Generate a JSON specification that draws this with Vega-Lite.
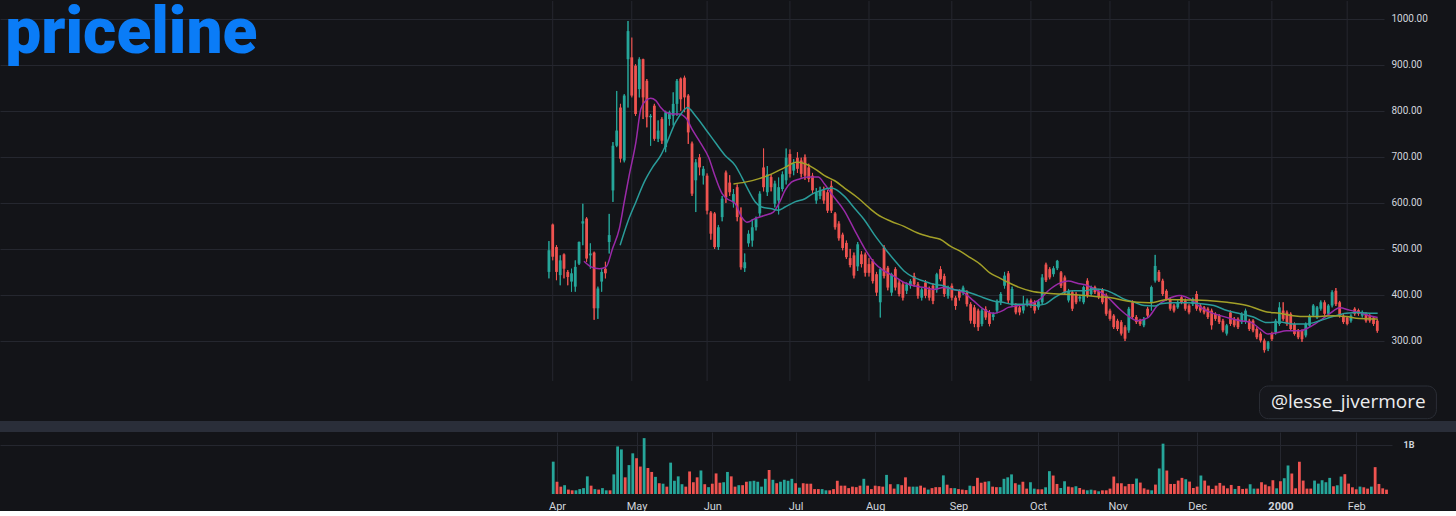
{
  "$schema": "https://vega.github.io/schema/vega-lite/v6.json",
  "background": "#131418",
  "padding": 0,
  "spacing": 0,
  "config": {
    "view": {"stroke": null},
    "font": "Roboto",
    "axis": {"domain": false, "ticks": false, "labelColor": "#d1d4dc", "gridColor": "#25272f", "gridWidth": 1}
  },
  "datasets": {
    "k": [
      {"i":-1,"o":450,"h":517,"l":436,"c":497,"v":660},
      {"i":0,"o":553,"h":555,"l":475,"c":483,"v":250},
      {"i":1,"o":504,"h":508,"l":432,"c":450,"v":150},
      {"i":2,"o":443,"h":486,"l":421,"c":475,"v":180},
      {"i":3,"o":488,"h":490,"l":436,"c":457,"v":90},
      {"i":4,"o":450,"h":454,"l":421,"c":439,"v":75},
      {"i":5,"o":429,"h":457,"l":407,"c":447,"v":75},
      {"i":6,"o":418,"h":475,"l":407,"c":461,"v":100},
      {"i":7,"o":468,"h":516,"l":465,"c":515,"v":120},
      {"i":8,"o":555,"h":598,"l":508,"c":560,"v":360},
      {"i":9,"o":566,"h":569,"l":472,"c":479,"v":170},
      {"i":10,"o":486,"h":512,"l":457,"c":490,"v":100},
      {"i":11,"o":492,"h":494,"l":346,"c":371,"v":90},
      {"i":12,"o":371,"h":418,"l":348,"c":414,"v":120},
      {"i":13,"o":429,"h":457,"l":407,"c":450,"v":75},
      {"i":14,"o":457,"h":472,"l":436,"c":447,"v":75},
      {"i":15,"o":515,"h":576,"l":490,"c":530,"v":400},
      {"i":16,"o":627,"h":732,"l":602,"c":724,"v":970},
      {"i":17,"o":724,"h":843,"l":721,"c":757,"v":910},
      {"i":18,"o":807,"h":815,"l":688,"c":696,"v":340},
      {"i":19,"o":692,"h":836,"l":688,"c":833,"v":590},
      {"i":20,"o":912,"h":995,"l":807,"c":973,"v":830},
      {"i":21,"o":916,"h":959,"l":829,"c":833,"v":730},
      {"i":22,"o":898,"h":901,"l":789,"c":793,"v":560},
      {"i":23,"o":847,"h":916,"l":829,"c":912,"v":1140},
      {"i":24,"o":912,"h":913,"l":782,"c":829,"v":530},
      {"i":25,"o":865,"h":869,"l":764,"c":786,"v":450},
      {"i":26,"o":786,"h":793,"l":724,"c":789,"v":350},
      {"i":27,"o":811,"h":815,"l":735,"c":739,"v":220},
      {"i":28,"o":739,"h":779,"l":732,"c":757,"v":210},
      {"i":29,"o":782,"h":786,"l":728,"c":735,"v":150},
      {"i":30,"o":721,"h":800,"l":710,"c":797,"v":640},
      {"i":31,"o":782,"h":800,"l":768,"c":797,"v":270},
      {"i":32,"o":789,"h":840,"l":768,"c":815,"v":360},
      {"i":33,"o":815,"h":869,"l":789,"c":865,"v":200},
      {"i":34,"o":870,"h":872,"l":800,"c":825,"v":150},
      {"i":35,"o":872,"h":876,"l":797,"c":829,"v":460},
      {"i":36,"o":833,"h":836,"l":728,"c":753,"v":240},
      {"i":37,"o":729,"h":733,"l":615,"c":620,"v":340},
      {"i":38,"o":649,"h":695,"l":580,"c":688,"v":480},
      {"i":39,"o":699,"h":706,"l":660,"c":677,"v":200},
      {"i":40,"o":659,"h":680,"l":640,"c":674,"v":140},
      {"i":41,"o":659,"h":664,"l":575,"c":583,"v":210},
      {"i":42,"o":579,"h":582,"l":520,"c":533,"v":420},
      {"i":43,"o":577,"h":580,"l":500,"c":504,"v":230},
      {"i":44,"o":504,"h":552,"l":498,"c":547,"v":240},
      {"i":45,"o":569,"h":615,"l":560,"c":609,"v":450},
      {"i":46,"o":666,"h":670,"l":600,"c":612,"v":360},
      {"i":47,"o":644,"h":660,"l":615,"c":623,"v":150},
      {"i":48,"o":601,"h":630,"l":590,"c":619,"v":180},
      {"i":49,"o":634,"h":640,"l":560,"c":569,"v":180},
      {"i":50,"o":569,"h":590,"l":455,"c":460,"v":250},
      {"i":51,"o":458,"h":490,"l":450,"c":471,"v":260},
      {"i":52,"o":512,"h":540,"l":505,"c":533,"v":270},
      {"i":53,"o":518,"h":565,"l":505,"c":547,"v":250},
      {"i":54,"o":547,"h":570,"l":540,"c":565,"v":150},
      {"i":55,"o":577,"h":625,"l":570,"c":620,"v":310},
      {"i":56,"o":677,"h":718,"l":625,"c":634,"v":490},
      {"i":57,"o":623,"h":680,"l":615,"c":662,"v":290},
      {"i":58,"o":656,"h":662,"l":625,"c":634,"v":220},
      {"i":59,"o":598,"h":648,"l":590,"c":642,"v":250},
      {"i":60,"o":605,"h":655,"l":575,"c":634,"v":290},
      {"i":61,"o":630,"h":668,"l":625,"c":662,"v":270},
      {"i":62,"o":649,"h":718,"l":640,"c":698,"v":310},
      {"i":63,"o":706,"h":716,"l":655,"c":663,"v":220},
      {"i":64,"o":670,"h":695,"l":660,"c":685,"v":130},
      {"i":65,"o":698,"h":710,"l":665,"c":674,"v":220},
      {"i":66,"o":692,"h":698,"l":655,"c":663,"v":210},
      {"i":67,"o":699,"h":705,"l":650,"c":659,"v":210},
      {"i":68,"o":677,"h":685,"l":645,"c":652,"v":100},
      {"i":69,"o":659,"h":665,"l":620,"c":627,"v":100},
      {"i":70,"o":605,"h":632,"l":598,"c":623,"v":100},
      {"i":71,"o":615,"h":635,"l":608,"c":627,"v":75},
      {"i":72,"o":627,"h":635,"l":598,"c":605,"v":75},
      {"i":73,"o":623,"h":628,"l":578,"c":583,"v":100},
      {"i":74,"o":637,"h":648,"l":578,"c":583,"v":270},
      {"i":75,"o":577,"h":580,"l":542,"c":547,"v":170},
      {"i":76,"o":555,"h":560,"l":518,"c":523,"v":170},
      {"i":77,"o":531,"h":535,"l":497,"c":502,"v":120},
      {"i":78,"o":513,"h":518,"l":478,"c":482,"v":150},
      {"i":79,"o":480,"h":500,"l":460,"c":465,"v":140},
      {"i":80,"o":486,"h":492,"l":436,"c":442,"v":170},
      {"i":81,"o":462,"h":515,"l":452,"c":510,"v":310},
      {"i":82,"o":488,"h":495,"l":460,"c":467,"v":170},
      {"i":83,"o":488,"h":492,"l":440,"c":448,"v":100},
      {"i":84,"o":467,"h":480,"l":440,"c":448,"v":170},
      {"i":85,"o":474,"h":478,"l":425,"c":430,"v":160},
      {"i":86,"o":445,"h":450,"l":398,"c":405,"v":150},
      {"i":87,"o":384,"h":460,"l":351,"c":456,"v":390},
      {"i":88,"o":503,"h":508,"l":436,"c":441,"v":200},
      {"i":89,"o":459,"h":463,"l":410,"c":416,"v":110},
      {"i":90,"o":405,"h":448,"l":398,"c":445,"v":200},
      {"i":91,"o":456,"h":460,"l":410,"c":416,"v":180},
      {"i":92,"o":427,"h":432,"l":397,"c":402,"v":340},
      {"i":93,"o":423,"h":428,"l":388,"c":394,"v":150},
      {"i":94,"o":409,"h":427,"l":402,"c":423,"v":150},
      {"i":95,"o":420,"h":434,"l":414,"c":430,"v":150},
      {"i":96,"o":441,"h":448,"l":418,"c":423,"v":170},
      {"i":97,"o":423,"h":428,"l":392,"c":398,"v":130},
      {"i":98,"o":394,"h":416,"l":388,"c":412,"v":90},
      {"i":99,"o":427,"h":432,"l":393,"c":398,"v":120},
      {"i":100,"o":412,"h":418,"l":388,"c":394,"v":140},
      {"i":101,"o":420,"h":425,"l":380,"c":387,"v":140},
      {"i":102,"o":412,"h":448,"l":405,"c":445,"v":380},
      {"i":103,"o":456,"h":462,"l":430,"c":434,"v":190},
      {"i":104,"o":441,"h":446,"l":396,"c":402,"v":120},
      {"i":105,"o":398,"h":420,"l":392,"c":416,"v":120},
      {"i":106,"o":420,"h":425,"l":388,"c":394,"v":100},
      {"i":107,"o":394,"h":398,"l":368,"c":376,"v":90},
      {"i":108,"o":409,"h":412,"l":388,"c":394,"v":80},
      {"i":109,"o":405,"h":420,"l":400,"c":416,"v":170},
      {"i":110,"o":405,"h":410,"l":375,"c":380,"v":160},
      {"i":111,"o":380,"h":384,"l":338,"c":344,"v":330},
      {"i":112,"o":373,"h":378,"l":330,"c":337,"v":230},
      {"i":113,"o":366,"h":370,"l":322,"c":330,"v":250},
      {"i":114,"o":337,"h":370,"l":332,"c":366,"v":260},
      {"i":115,"o":369,"h":375,"l":346,"c":351,"v":150},
      {"i":116,"o":362,"h":367,"l":332,"c":337,"v":140},
      {"i":117,"o":352,"h":362,"l":345,"c":358,"v":140},
      {"i":118,"o":366,"h":390,"l":360,"c":387,"v":310},
      {"i":119,"o":384,"h":406,"l":378,"c":402,"v":340},
      {"i":120,"o":420,"h":450,"l":414,"c":442,"v":400},
      {"i":121,"o":447,"h":452,"l":382,"c":388,"v":220},
      {"i":122,"o":380,"h":418,"l":375,"c":413,"v":190},
      {"i":123,"o":377,"h":382,"l":358,"c":362,"v":250},
      {"i":124,"o":373,"h":378,"l":356,"c":362,"v":110},
      {"i":125,"o":366,"h":398,"l":360,"c":380,"v":240},
      {"i":126,"o":380,"h":392,"l":375,"c":388,"v":110},
      {"i":127,"o":388,"h":392,"l":372,"c":377,"v":96},
      {"i":128,"o":384,"h":388,"l":360,"c":366,"v":96},
      {"i":129,"o":373,"h":390,"l":368,"c":386,"v":137},
      {"i":130,"o":384,"h":445,"l":380,"c":438,"v":466},
      {"i":131,"o":466,"h":470,"l":428,"c":432,"v":377},
      {"i":132,"o":456,"h":460,"l":434,"c":438,"v":205},
      {"i":133,"o":445,"h":462,"l":440,"c":458,"v":123},
      {"i":134,"o":458,"h":476,"l":454,"c":474,"v":260},
      {"i":135,"o":449,"h":452,"l":415,"c":420,"v":151},
      {"i":136,"o":438,"h":442,"l":400,"c":406,"v":137},
      {"i":137,"o":388,"h":413,"l":384,"c":409,"v":158},
      {"i":138,"o":406,"h":410,"l":365,"c":370,"v":123},
      {"i":139,"o":402,"h":406,"l":380,"c":384,"v":89},
      {"i":140,"o":392,"h":400,"l":386,"c":396,"v":75},
      {"i":141,"o":384,"h":420,"l":380,"c":417,"v":89},
      {"i":142,"o":431,"h":436,"l":394,"c":398,"v":75},
      {"i":143,"o":402,"h":420,"l":398,"c":417,"v":55},
      {"i":144,"o":417,"h":420,"l":402,"c":406,"v":75},
      {"i":145,"o":409,"h":413,"l":391,"c":395,"v":75},
      {"i":146,"o":411,"h":415,"l":380,"c":384,"v":110},
      {"i":147,"o":399,"h":403,"l":355,"c":359,"v":356},
      {"i":148,"o":366,"h":370,"l":344,"c":348,"v":219},
      {"i":149,"o":355,"h":358,"l":326,"c":330,"v":219},
      {"i":150,"o":344,"h":348,"l":322,"c":326,"v":158},
      {"i":151,"o":341,"h":345,"l":312,"c":316,"v":205},
      {"i":152,"o":330,"h":334,"l":300,"c":305,"v":205},
      {"i":153,"o":323,"h":374,"l":318,"c":370,"v":315},
      {"i":154,"o":384,"h":388,"l":348,"c":352,"v":233},
      {"i":155,"o":352,"h":356,"l":337,"c":341,"v":116},
      {"i":156,"o":344,"h":348,"l":333,"c":337,"v":89},
      {"i":157,"o":334,"h":352,"l":330,"c":348,"v":75},
      {"i":158,"o":370,"h":374,"l":351,"c":355,"v":192},
      {"i":159,"o":384,"h":420,"l":366,"c":417,"v":521},
      {"i":160,"o":431,"h":487,"l":427,"c":463,"v":1027},
      {"i":161,"o":450,"h":454,"l":428,"c":431,"v":479},
      {"i":162,"o":431,"h":435,"l":398,"c":402,"v":205},
      {"i":163,"o":409,"h":412,"l":388,"c":391,"v":205},
      {"i":164,"o":391,"h":394,"l":366,"c":370,"v":274},
      {"i":165,"o":377,"h":380,"l":362,"c":366,"v":329},
      {"i":166,"o":373,"h":388,"l":370,"c":384,"v":301},
      {"i":167,"o":395,"h":400,"l":380,"c":384,"v":253},
      {"i":168,"o":388,"h":392,"l":366,"c":370,"v":123},
      {"i":169,"o":377,"h":380,"l":358,"c":362,"v":151},
      {"i":170,"o":380,"h":394,"l":376,"c":391,"v":377},
      {"i":171,"o":402,"h":408,"l":366,"c":370,"v":274},
      {"i":172,"o":377,"h":380,"l":362,"c":366,"v":171},
      {"i":173,"o":373,"h":376,"l":358,"c":362,"v":103},
      {"i":174,"o":370,"h":373,"l":348,"c":352,"v":171},
      {"i":175,"o":366,"h":370,"l":325,"c":334,"v":226},
      {"i":176,"o":359,"h":362,"l":344,"c":348,"v":171},
      {"i":177,"o":355,"h":358,"l":337,"c":341,"v":116},
      {"i":178,"o":344,"h":348,"l":319,"c":323,"v":185},
      {"i":179,"o":316,"h":337,"l":312,"c":334,"v":103},
      {"i":180,"o":362,"h":366,"l":333,"c":337,"v":164},
      {"i":181,"o":348,"h":352,"l":330,"c":334,"v":103},
      {"i":182,"o":348,"h":351,"l":326,"c":330,"v":110},
      {"i":183,"o":341,"h":362,"l":337,"c":359,"v":199},
      {"i":184,"o":341,"h":370,"l":337,"c":366,"v":110},
      {"i":185,"o":344,"h":348,"l":322,"c":326,"v":110},
      {"i":186,"o":344,"h":347,"l":319,"c":323,"v":240},
      {"i":187,"o":326,"h":330,"l":304,"c":308,"v":192},
      {"i":188,"o":316,"h":320,"l":297,"c":301,"v":158},
      {"i":189,"o":301,"h":305,"l":275,"c":280,"v":281},
      {"i":190,"o":283,"h":300,"l":278,"c":297,"v":116},
      {"i":191,"o":315,"h":320,"l":300,"c":304,"v":260},
      {"i":192,"o":319,"h":348,"l":314,"c":344,"v":322},
      {"i":193,"o":337,"h":384,"l":333,"c":373,"v":582},
      {"i":194,"o":366,"h":384,"l":344,"c":348,"v":418},
      {"i":195,"o":362,"h":366,"l":333,"c":337,"v":116},
      {"i":196,"o":359,"h":362,"l":322,"c":326,"v":658},
      {"i":197,"o":337,"h":340,"l":312,"c":315,"v":274},
      {"i":198,"o":322,"h":326,"l":304,"c":308,"v":110},
      {"i":199,"o":322,"h":325,"l":298,"c":304,"v":110},
      {"i":200,"o":312,"h":340,"l":308,"c":337,"v":274},
      {"i":201,"o":333,"h":358,"l":330,"c":355,"v":212},
      {"i":202,"o":355,"h":380,"l":352,"c":377,"v":281},
      {"i":203,"o":351,"h":376,"l":348,"c":373,"v":240},
      {"i":204,"o":370,"h":388,"l":366,"c":384,"v":329},
      {"i":205,"o":384,"h":388,"l":355,"c":359,"v":158},
      {"i":206,"o":359,"h":380,"l":355,"c":377,"v":178},
      {"i":207,"o":377,"h":410,"l":373,"c":406,"v":356},
      {"i":208,"o":409,"h":415,"l":376,"c":380,"v":404},
      {"i":209,"o":384,"h":387,"l":351,"c":355,"v":212},
      {"i":210,"o":355,"h":358,"l":337,"c":341,"v":137},
      {"i":211,"o":351,"h":354,"l":334,"c":337,"v":96},
      {"i":212,"o":344,"h":358,"l":340,"c":355,"v":151},
      {"i":213,"o":370,"h":373,"l":355,"c":359,"v":137},
      {"i":214,"o":367,"h":370,"l":355,"c":359,"v":110},
      {"i":215,"o":355,"h":366,"l":351,"c":362,"v":151},
      {"i":216,"o":359,"h":362,"l":340,"c":344,"v":548},
      {"i":217,"o":355,"h":358,"l":340,"c":344,"v":205},
      {"i":218,"o":351,"h":354,"l":333,"c":337,"v":116},
      {"i":219,"o":344,"h":347,"l":318,"c":322,"v":89}
    ],
    "ma": [
      {"s":"m10","i":8.3,"p":473},{"s":"m10","i":10.2,"p":461},{"s":"m10","i":12.4,"p":457},{"s":"m10","i":14.2,"p":461},
      {"s":"m10","i":15.9,"p":501},{"s":"m10","i":17.7,"p":544},{"s":"m10","i":19,"p":602},{"s":"m10","i":20.3,"p":659},
      {"s":"m10","i":22.1,"p":732},{"s":"m10","i":23.4,"p":804},{"s":"m10","i":24.7,"p":822},{"s":"m10","i":26,"p":827},
      {"s":"m10","i":27.4,"p":822},{"s":"m10","i":28.7,"p":807},{"s":"m10","i":30,"p":797},{"s":"m10","i":31.8,"p":793},
      {"s":"m10","i":33.5,"p":793},{"s":"m10","i":35.5,"p":783},{"s":"m10","i":37,"p":760},{"s":"m10","i":39.2,"p":731},
      {"s":"m10","i":41.4,"p":699},{"s":"m10","i":43.2,"p":656},{"s":"m10","i":45,"p":620},{"s":"m10","i":46.3,"p":609},
      {"s":"m10","i":48.5,"p":598},{"s":"m10","i":50.2,"p":569},{"s":"m10","i":51.6,"p":558},{"s":"m10","i":53.8,"p":566},
      {"s":"m10","i":56.4,"p":573},{"s":"m10","i":58.6,"p":580},{"s":"m10","i":60.3,"p":602},{"s":"m10","i":61.7,"p":627},
      {"s":"m10","i":63.4,"p":645},{"s":"m10","i":65.6,"p":652},{"s":"m10","i":67.8,"p":656},{"s":"m10","i":70.5,"p":656},
      {"s":"m10","i":72.2,"p":641},{"s":"m10","i":74,"p":620},{"s":"m10","i":77.5,"p":582},{"s":"m10","i":80.1,"p":542},
      {"s":"m10","i":82.7,"p":503},{"s":"m10","i":85.4,"p":470},{"s":"m10","i":88,"p":452},{"s":"m10","i":90.6,"p":441},
      {"s":"m10","i":93.3,"p":427},{"s":"m10","i":95.9,"p":420},{"s":"m10","i":98.6,"p":416},{"s":"m10","i":101.2,"p":412},
      {"s":"m10","i":103.8,"p":416},{"s":"m10","i":106.5,"p":412},{"s":"m10","i":109.1,"p":405},{"s":"m10","i":111.8,"p":387},
      {"s":"m10","i":114.4,"p":369},{"s":"m10","i":117,"p":360},{"s":"m10","i":119.5,"p":366},{"s":"m10","i":121,"p":373},
      {"s":"m10","i":123.7,"p":377},{"s":"m10","i":126.3,"p":380},{"s":"m10","i":129,"p":388},{"s":"m10","i":131.6,"p":409},
      {"s":"m10","i":134.2,"p":424},{"s":"m10","i":136.9,"p":430},{"s":"m10","i":139.5,"p":425},{"s":"m10","i":142.1,"p":420},
      {"s":"m10","i":144.8,"p":409},{"s":"m10","i":147.4,"p":395},{"s":"m10","i":150.1,"p":373},{"s":"m10","i":152.7,"p":355},
      {"s":"m10","i":155.3,"p":344},{"s":"m10","i":158,"p":350},{"s":"m10","i":160.6,"p":377},{"s":"m10","i":163.3,"p":391},
      {"s":"m10","i":166.4,"p":399},{"s":"m10","i":169.4,"p":391},{"s":"m10","i":172.1,"p":373},{"s":"m10","i":174.7,"p":362},
      {"s":"m10","i":177.3,"p":355},{"s":"m10","i":180,"p":349},{"s":"m10","i":182.6,"p":344},{"s":"m10","i":185.3,"p":341},
      {"s":"m10","i":187.9,"p":326},{"s":"m10","i":190,"p":315},{"s":"m10","i":192.2,"p":318},{"s":"m10","i":194.9,"p":322},
      {"s":"m10","i":198.4,"p":322},{"s":"m10","i":201,"p":330},{"s":"m10","i":203.7,"p":344},{"s":"m10","i":206.3,"p":359},
      {"s":"m10","i":209,"p":372},{"s":"m10","i":211.6,"p":367},{"s":"m10","i":214.2,"p":362},{"s":"m10","i":216.9,"p":355},
      {"s":"m10","i":219.1,"p":351},
      {"s":"m20","i":17.9,"p":508},{"s":"m20","i":19.9,"p":558},{"s":"m20","i":22.1,"p":602},{"s":"m20","i":24.3,"p":645},
      {"s":"m20","i":26.5,"p":677},{"s":"m20","i":28.7,"p":703},{"s":"m20","i":30.4,"p":732},{"s":"m20","i":32.6,"p":775},
      {"s":"m20","i":34.4,"p":797},{"s":"m20","i":35.8,"p":807},{"s":"m20","i":37.9,"p":789},{"s":"m20","i":40.6,"p":760},
      {"s":"m20","i":43.2,"p":731},{"s":"m20","i":45.8,"p":703},{"s":"m20","i":48.5,"p":681},{"s":"m20","i":50.2,"p":656},
      {"s":"m20","i":52,"p":627},{"s":"m20","i":53.8,"p":602},{"s":"m20","i":55.5,"p":591},{"s":"m20","i":58.2,"p":587},
      {"s":"m20","i":59.9,"p":584},{"s":"m20","i":61.7,"p":591},{"s":"m20","i":64.3,"p":602},{"s":"m20","i":67,"p":609},
      {"s":"m20","i":69.1,"p":620},{"s":"m20","i":71.3,"p":627},{"s":"m20","i":74,"p":632},{"s":"m20","i":77.5,"p":614},
      {"s":"m20","i":80.1,"p":589},{"s":"m20","i":82.7,"p":564},{"s":"m20","i":85.4,"p":531},{"s":"m20","i":88,"p":503},
      {"s":"m20","i":90.6,"p":477},{"s":"m20","i":93.3,"p":452},{"s":"m20","i":95.9,"p":438},{"s":"m20","i":98.6,"p":430},
      {"s":"m20","i":101.2,"p":423},{"s":"m20","i":103.8,"p":420},{"s":"m20","i":106.5,"p":412},{"s":"m20","i":109.1,"p":409},
      {"s":"m20","i":111.8,"p":402},{"s":"m20","i":114.4,"p":394},{"s":"m20","i":117,"p":387},{"s":"m20","i":119.5,"p":384},
      {"s":"m20","i":121.9,"p":380},{"s":"m20","i":125.4,"p":380},{"s":"m20","i":128,"p":377},{"s":"m20","i":130.7,"p":380},
      {"s":"m20","i":133.4,"p":395},{"s":"m20","i":136,"p":406},{"s":"m20","i":138.6,"p":409},{"s":"m20","i":141.3,"p":409},
      {"s":"m20","i":143.9,"p":413},{"s":"m20","i":146.5,"p":411},{"s":"m20","i":149.2,"p":402},{"s":"m20","i":151.8,"p":391},
      {"s":"m20","i":154.5,"p":384},{"s":"m20","i":157.1,"p":377},{"s":"m20","i":160,"p":376},{"s":"m20","i":161.5,"p":381},
      {"s":"m20","i":165,"p":383},{"s":"m20","i":168.6,"p":383},{"s":"m20","i":172.1,"p":381},{"s":"m20","i":175.6,"p":377},
      {"s":"m20","i":179.1,"p":366},{"s":"m20","i":182.6,"p":359},{"s":"m20","i":186.1,"p":352},{"s":"m20","i":189.7,"p":340},
      {"s":"m20","i":193.1,"p":341},{"s":"m20","i":196.6,"p":337},{"s":"m20","i":200.2,"p":337},{"s":"m20","i":203.7,"p":344},
      {"s":"m20","i":207.2,"p":353},{"s":"m20","i":210.7,"p":360},{"s":"m20","i":214.2,"p":362},{"s":"m20","i":217.7,"p":360},
      {"s":"m20","i":219.1,"p":360},
      {"s":"m50","i":48,"p":641},{"s":"m50","i":51.1,"p":645},{"s":"m50","i":54.6,"p":652},{"s":"m50","i":58.2,"p":663},
      {"s":"m50","i":61.7,"p":677},{"s":"m50","i":64.7,"p":688},{"s":"m50","i":67,"p":685},{"s":"m50","i":69.6,"p":674},
      {"s":"m50","i":72.2,"p":659},{"s":"m50","i":74.9,"p":648},{"s":"m50","i":77.5,"p":632},{"s":"m50","i":81,"p":611},
      {"s":"m50","i":84.5,"p":586},{"s":"m50","i":86.2,"p":575},{"s":"m50","i":89.8,"p":560},{"s":"m50","i":93.3,"p":549},
      {"s":"m50","i":96.8,"p":535},{"s":"m50","i":100.3,"p":526},{"s":"m50","i":102.9,"p":521},{"s":"m50","i":105.6,"p":506},
      {"s":"m50","i":108.2,"p":495},{"s":"m50","i":110.9,"p":481},{"s":"m50","i":113.5,"p":467},{"s":"m50","i":116.1,"p":448},
      {"s":"m50","i":118.4,"p":438},{"s":"m50","i":121,"p":427},{"s":"m50","i":123.7,"p":417},{"s":"m50","i":127.2,"p":408},
      {"s":"m50","i":130.7,"p":404},{"s":"m50","i":134.2,"p":402},{"s":"m50","i":137.8,"p":401},{"s":"m50","i":141.3,"p":399},
      {"s":"m50","i":144.8,"p":396},{"s":"m50","i":148.3,"p":394},{"s":"m50","i":151.8,"p":388},{"s":"m50","i":155.3,"p":384},
      {"s":"m50","i":158.5,"p":383},{"s":"m50","i":163.3,"p":390},{"s":"m50","i":168.6,"p":389},{"s":"m50","i":173.8,"p":388},
      {"s":"m50","i":179.1,"p":384},{"s":"m50","i":184.4,"p":377},{"s":"m50","i":189.7,"p":363},{"s":"m50","i":193.1,"p":360},
      {"s":"m50","i":196.6,"p":355},{"s":"m50","i":200.2,"p":353},{"s":"m50","i":203.7,"p":353},{"s":"m50","i":207.2,"p":355},
      {"s":"m50","i":210.7,"p":353},{"s":"m50","i":214.2,"p":349},{"s":"m50","i":217.7,"p":348},{"s":"m50","i":219.1,"p":348}
    ],
    "months": [
      {"m":0},{"m":21},{"m":41},{"m":63},{"m":84},{"m":106},{"m":127},{"m":148},{"m":169},{"m":191},{"m":211}
    ]
  },
  "vconcat": [
    {
      "width": 1384,
      "height": 420,
      "layer": [
        {
          "data": {"name": "k"},
          "mark": {"type": "rule", "strokeWidth": 1},
          "encoding": {
            "x": {"field": "i", "type": "quantitative", "scale": {"domain": [-145.46, 219.45], "nice": false, "zero": false}, "axis": null},
            "y": {"field": "l", "type": "quantitative", "scale": {"domain": [126.2, 1038.4], "nice": false, "zero": false},
                  "axis": {"orient": "right", "values": [300, 400, 500, 600, 700, 800, 900, 1000], "format": ".2f", "grid": true,
                           "labelFontSize": 10, "labelPadding": 7, "title": null}},
            "y2": {"field": "h"},
            "color": {"condition": {"test": "datum.c >= datum.o", "value": "#26a69a"}, "value": "#ef5350"}
          }
        },
        {
          "data": {"name": "months"},
          "mark": {"type": "rule", "color": "#25272f", "strokeWidth": 1},
          "encoding": {
            "x": {"field": "m", "type": "quantitative"},
            "y": {"datum": 213.1, "type": "quantitative"},
            "y2": {"datum": 1038.4}
          }
        },
        {
          "data": {"name": "k"},
          "mark": {"type": "rule", "strokeWidth": 1},
          "encoding": {
            "x": {"field": "i", "type": "quantitative"},
            "y": {"field": "l", "type": "quantitative"},
            "y2": {"field": "h"},
            "color": {"condition": {"test": "datum.c >= datum.o", "value": "#26a69a"}, "value": "#ef5350"}
          }
        },
        {
          "data": {"name": "k"},
          "mark": {"type": "bar", "width": 2.8},
          "encoding": {
            "x": {"field": "i", "type": "quantitative"},
            "y": {"field": "o", "type": "quantitative"},
            "y2": {"field": "c"},
            "color": {"condition": {"test": "datum.c >= datum.o", "value": "#26a69a"}, "value": "#ef5350"}
          }
        },
        {
          "data": {"name": "ma"},
          "mark": {"type": "line", "strokeWidth": 1.5, "interpolate": "monotone"},
          "encoding": {
            "x": {"field": "i", "type": "quantitative"},
            "y": {"field": "p", "type": "quantitative"},
            "detail": {"field": "s"},
            "stroke": {"field": "s", "type": "nominal", "legend": null,
                       "scale": {"domain": ["m10", "m20", "m50"], "range": ["#9a2aa8", "#2a9c9a", "#a3a028"]}}
          }
        },
        {
          "data": {"values": [{"t": "priceline"}]},
          "mark": {"type": "text", "align": "left", "baseline": "alphabetic", "font": "Roboto", "fontWeight": 900, "fontSize": 64, "color": "#0a7cf7"},
          "encoding": {
            "x": {"datum": -145.4, "type": "quantitative"},
            "y": {"datum": 925.5, "type": "quantitative"},
            "text": {"field": "t"}
          }
        },
        {
          "data": {"values": [{"t": "@lesse_jivermore"}]},
          "mark": {"type": "rect", "cornerRadius": 9, "fill": "#16171c", "stroke": "#2b2e36", "strokeWidth": 1},
          "encoding": {
            "x": {"datum": 187.7, "type": "quantitative"},
            "x2": {"datum": 234.7},
            "y": {"datum": 202.2, "type": "quantitative"},
            "y2": {"datum": 131.2}
          }
        },
        {
          "data": {"values": [{"t": "@lesse_jivermore"}]},
          "mark": {"type": "text", "align": "center", "baseline": "middle", "font": "Open Sans", "fontSize": 19, "color": "#ececee"},
          "encoding": {
            "x": {"datum": 211.3, "type": "quantitative"},
            "y": {"datum": 167.4, "type": "quantitative"},
            "text": {"field": "t"}
          }
        }
      ]
    },
    {
      "width": 1456,
      "height": 11,
      "data": {"values": [{"a": 0}]},
      "mark": {"type": "rect", "color": "#2a2e39"},
      "encoding": {
        "x": {"datum": 0, "type": "quantitative", "scale": {"domain": [0, 1]}, "axis": null},
        "x2": {"datum": 1},
        "y": {"datum": 0, "type": "quantitative", "scale": {"domain": [0, 1]}, "axis": null},
        "y2": {"datum": 1}
      }
    },
    {
      "width": 1392,
      "height": 62,
      "data": {"name": "k"},
      "mark": {"type": "bar", "width": 2.8},
      "encoding": {
        "x": {"field": "i", "type": "quantitative", "scale": {"domain": [-145.74, 219.13], "nice": false, "zero": false},
              "axis": {"values": [0, 21, 41, 63, 84, 106, 127, 148, 169, 191, 211], "grid": true, "labelFontSize": 11, "labelPadding": 6,
                       "labelExpr": "['Apr','May','Jun','Jul','Aug','Sep','Oct','Nov','Dec','2000','Feb'][indexof([0,21,41,63,84,106,127,148,169,191,211], datum.value)]",
                       "labelFontWeight": {"condition": {"test": "datum.value == 191", "value": "bold"}, "value": "normal"},
                       "title": null}},
        "y": {"field": "v", "type": "quantitative", "scale": {"domain": [0, 1265], "nice": false},
              "axis": {"orient": "right", "values": [1000], "labelExpr": "'1B'", "grid": true, "labelFontSize": 9, "labelFontWeight": "bold", "labelPadding": 11, "title": null}},
        "color": {"condition": {"test": "datum.c >= datum.o", "value": "#26a69a"}, "value": "#ef5350"}
      }
    }
  ]
}
